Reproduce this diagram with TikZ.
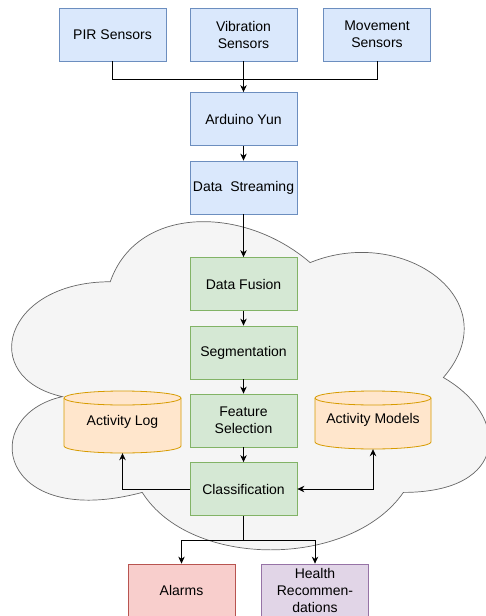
\documentclass[tikz,border=0pt]{standalone}
\usepackage{fontspec}
\setmainfont{Liberation Sans}
\usetikzlibrary{arrows.meta,calc}
\definecolor{bluef}{HTML}{DAE8FC}
\definecolor{blued}{HTML}{6C8EBF}
\definecolor{greenf}{HTML}{D5E8D4}
\definecolor{greend}{HTML}{82B366}
\definecolor{orangef}{HTML}{FFE6CC}
\definecolor{oranged}{HTML}{D79B00}
\definecolor{redf}{HTML}{F8CECC}
\definecolor{redd}{HTML}{B85450}
\definecolor{purplef}{HTML}{E1D5E7}
\definecolor{purpled}{HTML}{9673A6}
\definecolor{cloudf}{HTML}{F5F5F5}
\definecolor{cloudd}{HTML}{666666}
\begin{document}
\begin{tikzpicture}[x=1pt,y=-1pt,
  txt/.style={font=\fontsize{14}{17}\selectfont, align=center},
  box/.style={txt, draw, line width=0.8pt, minimum width=107pt, minimum height=53pt, inner sep=1pt},
  bluebox/.style={box, fill=bluef, draw=blued},
  greenbox/.style={box, fill=greenf, draw=greend},
  redbox/.style={box, fill=redf, draw=redd},
  purplebox/.style={box, fill=purplef, draw=purpled},
  cylbody/.style={fill=orangef, draw=oranged, line width=0.8pt},
  arr/.style={draw=black, line width=0.8pt, -{Stealth[length=7pt,width=6.5pt]}},
  arrboth/.style={draw=black, line width=0.8pt, {Stealth[length=7pt,width=6.5pt]}-{Stealth[length=7pt,width=6.5pt]}},
  ln/.style={draw=black, line width=0.8pt}
]
\useasboundingbox (0,0) rectangle (486,616);
\clip (0,0) rectangle (486,616);

% cloud
\draw[fill=cloudf, draw=cloudd, line width=0.7pt]
  (110.25,281.75)
  .. controls (3.65,281.75) and (-23,377.5) .. (62.28,396.65)
  .. controls (-23,415.8) and (-1.68,530.7) .. (142.23,492.4)
  .. controls (190.2,569) and (350.1,569) .. (403.4,492.4)
  .. controls (510,492.4) and (510,415.8) .. (443.375,377.5)
  .. controls (510,300.9) and (403.4,224.3) .. (310.125,262.6)
  .. controls (243.5,205.15) and (136.9,205.15) .. (110.25,281.75) -- cycle;

% sensors
\node[bluebox] (pir) at (112.5,34.5) {PIR Sensors};
\node[bluebox] (vib) at (243.5,34.5) {Vibration\\Sensors};
\node[bluebox] (mov) at (377,34.5) {Movement\\Sensors};
\node[bluebox] (ard) at (243.5,119) {Arduino Yun};
\node[bluebox] (str) at (243.5,187.5) {Data~~Streaming};

% pipeline
\node[greenbox] (fus) at (243.5,284) {Data Fusion};
\node[greenbox] (seg) at (243.5,352.5) {Segmentation};
\node[greenbox] (fea) at (243.5,420.5) {Feature\\Selection};
\node[greenbox] (cls) at (243.5,489) {Classification};

% cylinders
\draw[cylbody] (64,398) -- (64,446)
  arc[start angle=180, end angle=0, x radius=58.5, y radius=7] -- (181,398)
  arc[start angle=0, end angle=-180, x radius=58.5, y radius=7] -- cycle;
\draw[draw=oranged, line width=0.8pt] (64,398) arc[start angle=180, end angle=0, x radius=58.5, y radius=7];
\node[txt, minimum width=117pt, minimum height=62pt, inner sep=0pt] (alog) at (122.5,422) {Activity Log};

\draw[cylbody] (315,398) -- (315,442)
  arc[start angle=180, end angle=0, x radius=58, y radius=7] -- (431,398)
  arc[start angle=0, end angle=-180, x radius=58, y radius=7] -- cycle;
\draw[draw=oranged, line width=0.8pt] (315,398) arc[start angle=180, end angle=0, x radius=58, y radius=7];
\node[txt, minimum width=116pt, minimum height=58pt, inner sep=0pt] (amod) at (373,420) {Activity Models};
\coordinate (amodtxt) at (373,418);

% outputs
\node[redbox] (alarm) at (181.5,590.5) {Alarms};
\node[purplebox] (health) at (315,590.5) {Health\\Recommen-\\dations};

% connectors
\coordinate (j1) at (243.5,79);
\draw[ln] (pir.south) |- (j1);
\draw[ln] (mov.south) |- (j1);
\draw[arr] (vib.south) -- (ard.north);
\draw[arr] (ard.south) -- (str.north);
\draw[arr] (str.south) -- (fus.north);
\draw[arr] (fus.south) -- (seg.north);
\draw[arr] (seg.south) -- (fea.north);
\draw[arr] (fea.south) -- (cls.north);
\draw[arr] (cls.west) -| (alog.south);
\draw[arrboth] (amod.south) |- (cls.east);
\coordinate (j2) at (243.5,540);
\draw[ln] (cls.south) -- (j2);
\draw[arr] (j2) -| (alarm.north);
\draw[arr] (j2) -| (health.north);
\end{tikzpicture}
\end{document}
